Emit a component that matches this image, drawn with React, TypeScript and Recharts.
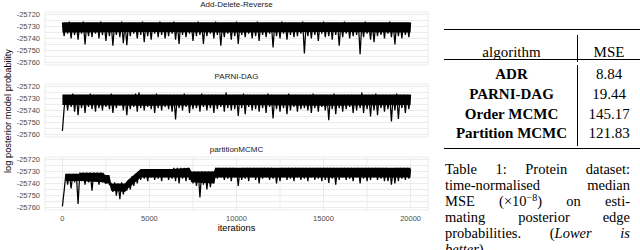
import { ComposedChart, Line, Area, XAxis, YAxis, CartesianGrid } from 'recharts';

// MCMC trace, thinned: highs at iterations 0,200,...,20000, lows in between (100,300,...)
const STEP = 100;
const X_TICKS = [0, 2500, 5000, 7500, 10000, 12500, 15000, 17500, 20000];
const Y_TICKS = [-25760, -25755, -25750, -25745, -25740, -25735, -25730, -25725, -25720];
const Y_DOMAIN = [-25762, -25718];

const ADR_HIGH = [
  -25727, -25727, -25726, -25727, -25727, -25727, -25726, -25727, -25727, -25727,
  -25727, -25726, -25727, -25727, -25727, -25727, -25727, -25726, -25727, -25727,
  -25727, -25727, -25727, -25726, -25727, -25727, -25727, -25727, -25726, -25727,
  -25727, -25727, -25726, -25727, -25727, -25727, -25727, -25727, -25727, -25726,
  -25727, -25727, -25727, -25727, -25726, -25727, -25727, -25727, -25727, -25727,
  -25726, -25727, -25727, -25727, -25727, -25727, -25726, -25727, -25727, -25727,
  -25727, -25727, -25727, -25726, -25727, -25727, -25727, -25727, -25727, -25726,
  -25727, -25727, -25727, -25727, -25727, -25726, -25727, -25727, -25727, -25727,
  -25727, -25726, -25727, -25727, -25727, -25727, -25727, -25726, -25727, -25727,
  -25727, -25727, -25727, -25727, -25726, -25727, -25727, -25727, -25727, -25727,
  -25727,
];
const ADR_LOW = [
  -25738, -25736, -25740, -25737, -25741, -25736, -25745, -25738, -25739, -25736,
  -25740, -25737, -25742, -25738, -25746, -25737, -25739, -25744, -25745.5, -25738,
  -25736, -25740, -25737, -25743, -25738, -25741, -25736, -25739, -25737, -25740,
  -25738, -25736, -25741, -25744.5, -25737, -25739, -25736, -25742, -25738, -25737,
  -25744.5, -25738, -25736, -25740, -25737, -25746, -25739, -25736, -25741, -25738,
  -25744.5, -25737, -25739, -25736, -25740, -25738, -25742, -25737, -25739, -25736,
  -25747.5, -25738, -25740, -25736, -25741, -25737, -25739, -25738, -25736, -25752.5,
  -25738, -25740, -25737, -25742, -25736, -25739, -25738, -25741, -25737, -25746,
  -25739, -25736, -25740, -25738, -25737, -25753, -25739, -25736, -25741, -25743,
  -25738, -25737, -25740, -25736, -25739, -25745, -25738, -25740, -25737, -25739,
];
const ADR_BAND_IT = [0, 5000, 10000, 15000, 20000];
const ADR_BAND_TOP = [-25726.5, -25726.5, -25726.5, -25726.5, -25726.5];
const ADR_BAND_BOTTOM = [-25735, -25734.5, -25735, -25734.5, -25735];

const PARNI_HIGH = [
  -25757, -25727, -25727, -25726, -25727, -25727, -25727, -25727, -25726, -25727,
  -25727, -25727, -25727, -25727, -25726, -25727, -25727, -25727, -25727, -25727,
  -25727, -25726, -25725, -25727, -25727, -25727, -25727, -25726, -25727, -25727,
  -25727, -25727, -25727, -25727, -25727, -25726, -25727, -25727, -25727, -25727,
  -25726, -25727, -25727, -25727, -25727, -25727, -25727, -25725, -25727, -25727,
  -25727, -25727, -25726, -25727, -25727, -25727, -25727, -25727, -25727, -25726,
  -25727, -25727, -25727, -25727, -25727, -25726, -25727, -25727, -25727, -25727,
  -25727, -25727, -25726, -25727, -25727, -25727, -25727, -25727, -25726, -25727,
  -25727, -25727, -25727, -25727, -25727, -25727, -25725, -25727, -25727, -25727,
  -25726, -25727, -25727, -25727, -25727, -25727, -25726, -25727, -25727, -25727,
  -25727,
];
const PARNI_LOW = [
  -25738, -25740, -25737, -25741, -25744, -25738, -25742, -25737, -25739, -25741,
  -25738, -25740, -25737, -25739, -25742, -25738, -25736, -25740, -25744, -25739,
  -25737, -25741, -25738, -25740, -25737, -25739, -25742, -25738, -25740, -25737,
  -25739, -25741, -25747.5, -25738, -25740, -25737, -25742, -25739, -25738, -25741,
  -25737, -25740, -25738, -25742, -25739, -25737, -25741, -25738, -25740, -25739,
  -25744.5, -25738, -25743, -25737, -25740, -25739, -25741, -25738, -25742, -25737,
  -25746.5, -25739, -25741, -25738, -25743, -25740, -25737, -25741, -25739, -25738,
  -25740, -25742, -25738, -25741, -25737, -25740, -25748, -25739, -25743, -25738,
  -25741, -25739, -25737, -25742, -25740, -25738, -25742, -25739, -25745, -25740,
  -25744, -25738, -25741, -25739, -25749, -25740, -25747, -25738, -25742, -25739,
];
const PARNI_BAND_IT = [0, 5000, 10000, 15000, 20000];
const PARNI_BAND_TOP = [-25726.7, -25726.7, -25726.7, -25726.7, -25726.7];
const PARNI_BAND_BOTTOM = [-25735.5, -25736, -25735.5, -25736, -25735.5];

const PART_HIGH = [
  -25759, -25732, -25732, -25732, -25732, -25731, -25731, -25731, -25731, -25731,
  -25731, -25731, -25733, -25733, -25740, -25739, -25740, -25739, -25740, -25737,
  -25734, -25732, -25730, -25728, -25728, -25728, -25728, -25728, -25728, -25728,
  -25728, -25728, -25727, -25727, -25727, -25727, -25727, -25730, -25730, -25730,
  -25730, -25730, -25730, -25730, -25727, -25727, -25727, -25727, -25727, -25727,
  -25728, -25728, -25727, -25727, -25727, -25727, -25727, -25727, -25727, -25727,
  -25727, -25728, -25728, -25727, -25727, -25727, -25727, -25727, -25727, -25727,
  -25727, -25727, -25727, -25727, -25727, -25727, -25727, -25727, -25727, -25727,
  -25727, -25727, -25727, -25727, -25727, -25727, -25727, -25727, -25727, -25727,
  -25727, -25727, -25727, -25727, -25728, -25728, -25727, -25727, -25727, -25727,
  -25728,
];
const PART_LOW = [
  -25746, -25741, -25744, -25739, -25757, -25738, -25741, -25739, -25746, -25738,
  -25741, -25739, -25740, -25741, -25747, -25750, -25753, -25749, -25746, -25745,
  -25742, -25740, -25737, -25736, -25738, -25735, -25737, -25736, -25738, -25735,
  -25737, -25736, -25738, -25740, -25736, -25738, -25737, -25740, -25742, -25751.5,
  -25741, -25745, -25743, -25740, -25736, -25735, -25737, -25736, -25738, -25735,
  -25742, -25737, -25736, -25738, -25735, -25737, -25740, -25736, -25735, -25737,
  -25736, -25740, -25738, -25735, -25737, -25736, -25738, -25735, -25737, -25736,
  -25738, -25735, -25737, -25736, -25738, -25737, -25739.5, -25736, -25741, -25737,
  -25735, -25737, -25736, -25738, -25735, -25740, -25736, -25738, -25737, -25735,
  -25737, -25736, -25738, -25738, -25741, -25740, -25738, -25736, -25737, -25736,
];
const PART_BAND_IT = [200, 950, 1050, 2350, 2450, 2700, 2800, 3600, 3700, 4500, 6300, 7300, 7400, 8700, 8800, 20000];
const PART_BAND_TOP = [-25732, -25732, -25731, -25731, -25733, -25733, -25740, -25740, -25738, -25728, -25728, -25727, -25730, -25730, -25727, -25727];
const PART_BAND_BOTTOM = [-25738, -25738, -25738, -25739, -25740, -25740, -25746, -25747, -25745, -25735, -25735, -25735, -25739, -25740, -25735, -25735];

const SANS = '"Liberation Sans", Arial, sans-serif';
const SERIF = '"Liberation Serif", "Times New Roman", serif';

function buildTrace(highs: number[], lows: number[]) {
  const rows: { it: number; v: number }[] = [];
  highs.forEach((h, j) => {
    rows.push({ it: j * 2 * STEP, v: h });
    if (j < lows.length) rows.push({ it: j * 2 * STEP + STEP, v: lows[j] });
  });
  return rows;
}

function buildBand(its: number[], tops: number[], bottoms: number[]) {
  return its.map((it, i) => ({ it, band: [bottoms[i], tops[i]] }));
}

const PANELS = [
  { title: 'Add-Delete-Reverse', top: 11.6, trace: buildTrace(ADR_HIGH, ADR_LOW), band: buildBand(ADR_BAND_IT, ADR_BAND_TOP, ADR_BAND_BOTTOM) },
  { title: 'PARNI-DAG', top: 84.3, trace: buildTrace(PARNI_HIGH, PARNI_LOW), band: buildBand(PARNI_BAND_IT, PARNI_BAND_TOP, PARNI_BAND_BOTTOM) },
  { title: 'partitionMCMC', top: 157, trace: buildTrace(PART_HIGH, PART_LOW), band: buildBand(PART_BAND_IT, PART_BAND_TOP, PART_BAND_BOTTOM) },
];

const PANEL_H = 53;
const PAD = 6;

function TracePanel({ panel, showX }: { panel: any; showX: boolean }) {
  return (
    <div style={{ position: 'absolute', left: 0, top: panel.top - PAD }}>
      <ComposedChart width={430} height={PANEL_H + 2 * PAD + (showX ? 16 : 0)} margin={{ top: PAD, right: 2, bottom: PAD, left: 0 }}>
        <CartesianGrid stroke="#ebebeb" strokeWidth={1} />
        <XAxis
          type="number"
          dataKey="it"
          domain={[-1000, 21000]}
          ticks={X_TICKS}
          allowDataOverflow
          axisLine={false}
          tickLine={false}
          tickSize={3}
          tickMargin={2.5}
          height={showX ? 16 : 0}
          tick={showX ? { fontSize: 7.5, fill: '#4d4d4d', fontFamily: SANS } : false}
          tickFormatter={(v: number) => (v % 5000 === 0 ? String(v) : '')}
        />
        <YAxis
          type="number"
          domain={Y_DOMAIN}
          ticks={Y_TICKS}
          allowDataOverflow
          width={45}
          axisLine={false}
          tickLine={false}
          tickSize={3}
          tickMargin={2}
          interval={0}
          tick={{ fontSize: 7.5, fill: '#4d4d4d', fontFamily: SANS }}
          tickFormatter={(v: number) => (v % 10 === 0 ? String(v) : '')}
        />
        <Area data={panel.band} dataKey="band" type="linear" stroke="none" fill="#000" fillOpacity={1} isAnimationActive={false} />
        <Line data={panel.trace} dataKey="v" type="linear" stroke="#000" strokeWidth={1.25} dot={false} isAnimationActive={false} />
      </ComposedChart>
      <div style={{ position: 'absolute', left: 45, width: 383, top: PAD - 13, textAlign: 'center', fontFamily: SANS, fontSize: 8, color: '#1a1a1a', lineHeight: '11px' }}>
        {panel.title}
      </div>
    </div>
  );
}

const ROWS = ['ADR', 'PARNI-DAG', 'Order MCMC', 'Partition MCMC'];
const MSE = ['8.84', '19.44', '145.17', '121.83'];
const ROW_Y = [73.5, 94, 113.7, 133.3];

export default function App() {
  return (
    <div style={{ position: 'absolute', left: 0, top: 0, width: 640, height: 250, background: '#fff', overflow: 'hidden' }}>
      {PANELS.map((p, i) => (
        <TracePanel key={p.title} panel={p} showX={i === PANELS.length - 1} />
      ))}
      <div style={{ position: 'absolute', left: 45, width: 383, top: 222, textAlign: 'center', fontFamily: SANS, fontSize: 9.3, color: '#000', lineHeight: '12px' }}>
        iterations
      </div>
      <div
        style={{
          position: 'absolute', left: 8 - 80, top: 111 - 6, width: 160, textAlign: 'center', fontFamily: SANS,
          fontSize: 9.3, color: '#000', lineHeight: '12px', transform: 'rotate(-90deg)',
        }}
      >
        log posterior model probability
      </div>

      {/* table */}
      <div style={{ position: 'absolute', left: 444, top: 28.8, width: 196, height: 1.1, background: '#000' }} />
      <div style={{ position: 'absolute', left: 444, top: 58.9, width: 196, height: 0.7, background: '#000' }} />
      <div style={{ position: 'absolute', left: 444, top: 147.8, width: 196, height: 1.1, background: '#000' }} />
      <div style={{ position: 'absolute', left: 577.3, top: 35, width: 0.7, height: 27, background: '#000' }} />
      <div style={{ position: 'absolute', left: 577.3, top: 64.5, width: 0.7, height: 81, background: '#000' }} />
      <div style={{ position: 'absolute', left: 445, width: 133, top: 42, lineHeight: '20px', textAlign: 'center', fontFamily: SERIF, fontSize: 15, color: '#000' }}>algorithm</div>
      <div style={{ position: 'absolute', left: 578, width: 62, top: 42, lineHeight: '20px', textAlign: 'center', fontFamily: SERIF, fontSize: 15, color: '#000' }}>MSE</div>
      {ROWS.map((r, i) => (
        <div key={r}>
          <div style={{ position: 'absolute', left: 445, width: 133, top: ROW_Y[i] - 10, lineHeight: '20px', textAlign: 'center', fontFamily: SERIF, fontSize: 15, fontWeight: 'bold', color: '#000' }}>{r}</div>
          <div style={{ position: 'absolute', left: 578, width: 62, top: ROW_Y[i] - 10, lineHeight: '20px', textAlign: 'center', fontFamily: SERIF, fontSize: 15, color: '#000' }}>{MSE[i]}</div>
        </div>
      ))}

      {/* caption */}
      <div style={{ position: 'absolute', left: 445, width: 185, top: 161.3, fontFamily: SERIF, fontSize: 14.5, lineHeight: '16px', color: '#000' }}>
        {[
          <>Table 1: Protein dataset:</>,
          <>time-normalised median</>,
          <>MSE (×10<span style={{ fontSize: 10, position: 'relative', top: -5, lineHeight: 0 }}>−8</span>) on esti-</>,
          <>mating posterior edge</>,
          <>probabilities. (<i>Lower is</i></>,
          <><i>better</i>).</>,
        ].map((line, i) => (
          <div key={i} style={{ height: 16, overflow: 'visible', textAlign: 'justify', textAlignLast: i < 5 ? 'justify' : 'left', whiteSpace: 'nowrap' as any }}>
            {line}
          </div>
        ))}
      </div>
    </div>
  );
}
